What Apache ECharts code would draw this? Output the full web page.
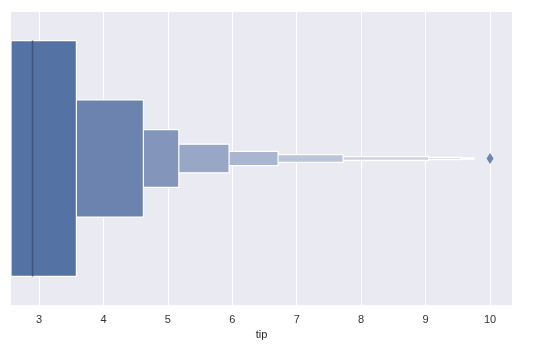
<!DOCTYPE html>
<html><head><meta charset="utf-8">
<script src="https://cdn.jsdelivr.net/npm/echarts@6/dist/echarts.min.js"></script>
<style>html,body{margin:0;padding:0;background:#fff}#c{width:533px;height:349px}</style>
</head><body><div id="c"></div>
<script>
// letter-value boxes (innermost first)
const boxLower = [2.0, 1.5, 1.45, 1.25, 1.1, 1.0, 1.0, 1.0, 1.0];
const boxUpper = [3.58, 4.62, 5.17, 5.95, 6.71, 7.72, 9.05, 9.55, 9.75];
const boxHeight = [0.805, 0.4, 0.197, 0.098, 0.049, 0.026, 0.013, 0.007, 0.004];
const boxColor = ['#5572a5','#6b83ae','#8395bb','#98a7c6','#aab5d0','#bcc4d8','#ced2e0','#e0e2ea','#f0f1f6'];
const medianValue = [2.9];
const outliers = [10.0];
const xTicks = [3,4,5,6,7,8,9,10];

const boxData = boxLower.map((l,i)=>[l, boxUpper[i], boxHeight[i], i]).reverse();

const chart = echarts.init(document.getElementById('c'));
chart.setOption({
  backgroundColor:'#ffffff',
  animation:false,
  grid:{left:11,right:21,top:12,bottom:44,show:true,backgroundColor:'#eaeaf2',borderWidth:0},
  xAxis:{type:'value',min:2.5654,max:10.341,name:'tip',nameLocation:'middle',nameGap:23,
    nameTextStyle:{color:'#262626',fontSize:11,fontFamily:'Liberation Sans'},
    axisLine:{show:false},axisTick:{show:false,customValues:xTicks},
    axisLabel:{customValues:xTicks,color:'#333333',fontSize:11,fontFamily:'Liberation Sans',margin:9},
    splitLine:{show:true,lineStyle:{color:'#ffffff',width:1}}},
  yAxis:{type:'value',min:-0.5,max:0.5,show:false,splitLine:{show:false}},
  series:[
    {type:'custom',clip:true,data:boxData,
     encode:{x:[0,1],y:2},
     renderItem:(params,api)=>{
       const lo=api.value(0),hi=api.value(1),h=api.value(2),idx=api.value(3);
       const p1=api.coord([lo,h/2]),p2=api.coord([hi,-h/2]);
       const rect=echarts.graphic.clipRectByRect({x:p1[0],y:p1[1],width:p2[0]-p1[0],height:p2[1]-p1[1]},
         {x:params.coordSys.x,y:params.coordSys.y,width:params.coordSys.width,height:params.coordSys.height});
       if(!rect) return;
       return {type:'rect',shape:rect,style:{fill:boxColor[idx],stroke:'#ffffff',lineWidth:1.2}};
     },z:2},
    {type:'custom',data:medianValue.map(v=>[v]),
     renderItem:(params,api)=>{
       const a=api.coord([api.value(0),boxHeight[0]/2]),b=api.coord([api.value(0),-boxHeight[0]/2]);
       return {type:'line',shape:{x1:a[0],y1:a[1],x2:b[0],y2:b[1]},style:{stroke:'#41557d',lineWidth:1.6}};
     },z:3},
    {type:'scatter',data:outliers.map(v=>[v,0]),symbol:'diamond',symbolSize:[7,11],
     itemStyle:{color:'#4e6a9d'},z:4}
  ]
});
</script></body></html>
